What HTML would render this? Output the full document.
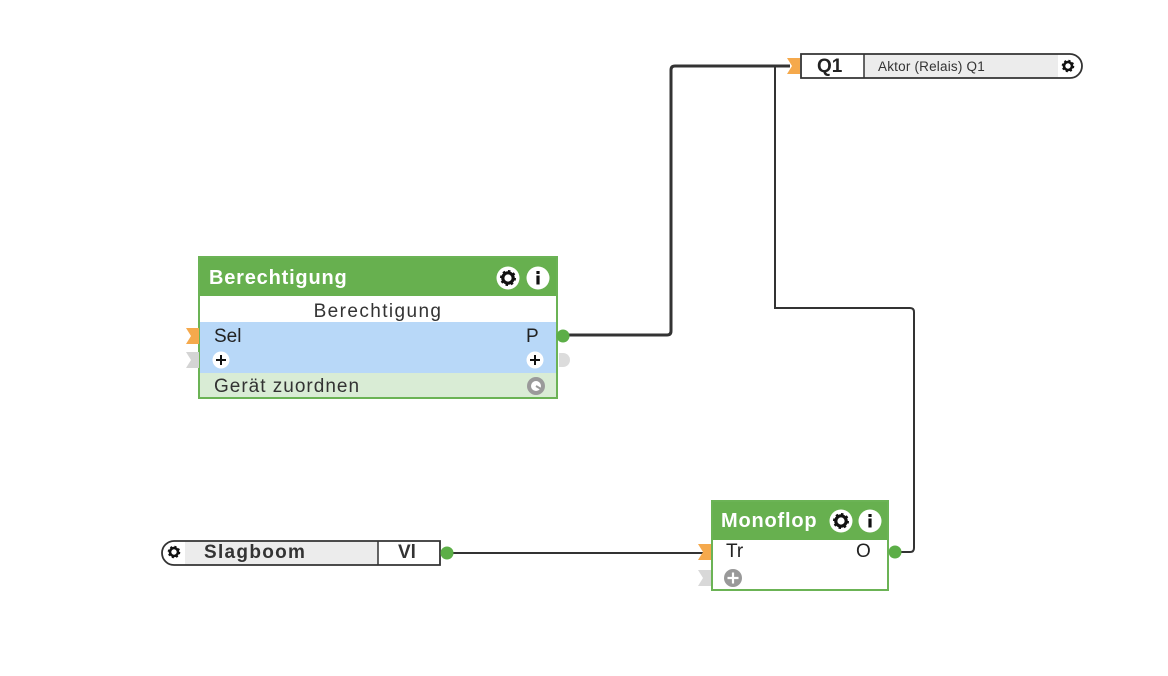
<!DOCTYPE html>
<html><head><meta charset="utf-8">
<style>
html,body{margin:0;padding:0;background:#fff;}
body{width:1168px;height:676px;position:relative;overflow:hidden;font-family:"Liberation Sans",Arial,sans-serif;}
.a{position:absolute;box-sizing:border-box;white-space:nowrap;}
.hdr{color:#fff;font-weight:bold;font-size:20px;letter-spacing:0.8px;}
.t{color:#222;font-size:19px;}
</style></head><body>

<!-- Berechtigung block -->
<div class="a" style="left:198px;top:256px;width:360px;height:143px;border:2px solid #6bb355;background:#fff;"></div>
<div class="a" style="left:200px;top:258px;width:356px;height:38px;background:#67b04f;"></div>
<div class="a" style="left:200px;top:322px;width:356px;height:51px;background:#b8d8f8;"></div>
<div class="a" style="left:200px;top:373px;width:356px;height:24px;background:#d9ecd5;"></div>
<div class="a hdr" style="left:209px;top:265px;line-height:26px;">Berechtigung</div>
<div class="a t" style="left:200px;width:356px;top:299px;line-height:26px;text-align:center;letter-spacing:1.4px;color:#333;">Berechtigung</div>
<div class="a t" style="left:214px;top:324px;line-height:26px;">Sel</div>
<div class="a t" style="left:526px;top:324px;line-height:26px;">P</div>
<div class="a t" style="left:214px;top:374px;line-height:26px;letter-spacing:1px;color:#333;">Gerät zuordnen</div>

<!-- Monoflop block -->
<div class="a" style="left:711px;top:500px;width:178px;height:91px;border:2px solid #6bb355;background:#fff;"></div>
<div class="a" style="left:713px;top:502px;width:174px;height:38px;background:#67b04f;"></div>
<div class="a hdr" style="left:721px;top:508px;line-height:26px;">Monoflop</div>
<div class="a t" style="left:726px;top:539px;line-height:26px;">Tr</div>
<div class="a t" style="left:856px;top:539px;line-height:26px;">O</div>

<!-- Q1 block -->
<div class="a" style="left:864px;top:54px;width:194px;height:24px;background:#ececec;"></div>
<div class="a" style="left:817px;top:54px;line-height:26px;font-size:19px;font-weight:bold;color:#222;">Q1</div>
<div class="a" style="left:878px;top:54px;line-height:26px;font-size:13.5px;color:#333;letter-spacing:0.2px;">Aktor (Relais) Q1</div>

<!-- Slagboom block -->
<div class="a" style="left:185px;top:541px;width:193px;height:24px;background:#ececec;"></div>
<div class="a" style="left:204px;top:540px;line-height:26px;font-size:19px;font-weight:bold;color:#333;letter-spacing:1.3px;">Slagboom</div>
<div class="a" style="left:398px;top:540px;line-height:26px;font-size:19px;font-weight:bold;color:#333;">Vl</div>

<svg class="a" style="left:0;top:0;" width="1168" height="676" viewBox="0 0 1168 676">
  <!-- connectors -->
  <path d="M566 335 H667 Q671 335 671 331 V70 Q671 66 675 66 H790" fill="none" stroke="#333" stroke-width="3"/>
  <path d="M775 66 V308 H910 Q914 308 914 312 V548 Q914 552 910 552 H897" fill="none" stroke="#333" stroke-width="2"/>
  <path d="M450 553 H704" fill="none" stroke="#333" stroke-width="2"/>

  <!-- Q1 frame -->
  <path d="M801 54 H1070 A12 12 0 0 1 1070 78 H801 Z" fill="none" stroke="#333" stroke-width="1.8"/>
  <line x1="864" y1="54" x2="864" y2="78" stroke="#333" stroke-width="1.5"/>
  <!-- Slagboom frame -->
  <path d="M440 541 H174 A12 12 0 0 0 174 565 H440 Z" fill="none" stroke="#333" stroke-width="1.8"/>
  <line x1="378" y1="541" x2="378" y2="565" stroke="#333" stroke-width="1.5"/>

  <!-- input arrows (orange) -->
  <path d="M186 328 H199 V344 H186 L191 336 Z" fill="#f5a94c"/>
  <path d="M787 58 H800 V74 H787 L792 66 Z" fill="#f5a94c"/>
  <path d="M698 544 H711 V560 H698 L703 552 Z" fill="#f5a94c"/>
  <!-- gray inputs -->
  <path d="M186 352 H199 V368 H186 L191 360 Z" fill="#d4d4d4"/>
  <path d="M698 570 H711 V586 H698 L703 578 Z" fill="#d8d8d8"/>
  <!-- output dots -->
  <circle cx="563" cy="336" r="6.5" fill="#5cae47"/>
  <path d="M559 353 A7 7 0 0 1 559 367 Z" fill="#dcdcdc"/>
  <path d="M559 353 H563 A7 7 0 0 1 563 367 H559 Z" fill="#dcdcdc"/>
  <circle cx="895" cy="552" r="6.5" fill="#5cae47"/>
  <circle cx="447" cy="553" r="6.5" fill="#5cae47"/>

  <!-- plus icons -->
  <g>
    <circle cx="221" cy="360" r="8.5" fill="#fff"/>
    <path d="M216 360 H226 M221 355 V365" stroke="#111" stroke-width="2"/>
    <circle cx="535" cy="360" r="8.5" fill="#fff"/>
    <path d="M530 360 H540 M535 355 V365" stroke="#111" stroke-width="2"/>
    <circle cx="733" cy="578" r="9" fill="#999"/>
    <path d="M727.5 578 H738.5 M733 572.5 V583.5" stroke="#fff" stroke-width="2.2"/>
  </g>
  <!-- Gerät zuordnen icon -->
  <circle cx="536" cy="386" r="9" fill="#9a9a9a"/>
  <circle cx="536" cy="386" r="5" fill="#fff"/>
  <path d="M536 386 L541 389" stroke="#9a9a9a" stroke-width="2"/>

  <!-- header icons -->
  <defs>
    <g id="gear">
      <circle r="11.5" fill="#fff"/>
      <circle r="5.2" fill="none" stroke="#111" stroke-width="3.2"/>
      <circle r="6.8" fill="none" stroke="#111" stroke-width="2.4" stroke-dasharray="2.4 2.9"/>
    </g>
    <g id="info">
      <circle r="11.5" fill="#fff"/>
      <rect x="-1.6" y="-7" width="3.2" height="3" fill="#111"/>
      <rect x="-1.6" y="-2.5" width="3.2" height="9" fill="#111"/>
    </g>
    <g id="sgear">
      <circle r="4" fill="none" stroke="#111" stroke-width="2.6"/>
      <circle r="5.3" fill="none" stroke="#111" stroke-width="2" stroke-dasharray="2 2.2"/>
    </g>
  </defs>
  <use href="#gear" x="508" y="278"/>
  <use href="#info" x="538" y="278"/>
  <use href="#gear" x="841" y="521"/>
  <use href="#info" x="870" y="521"/>
  <use href="#sgear" x="1068" y="66"/>
  <use href="#sgear" x="174" y="552"/>
</svg>
</body></html>
